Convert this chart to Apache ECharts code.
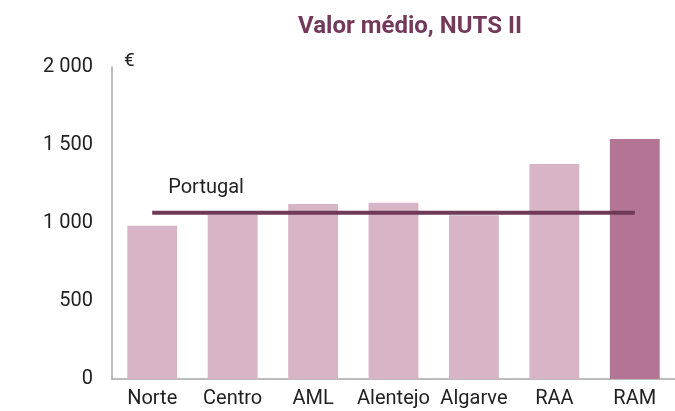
<!DOCTYPE html>
<html>
<head>
<meta charset="utf-8">
<script src="https://cdn.jsdelivr.net/npm/echarts@6/dist/echarts.min.js"></script>
<style>
  html, body { margin: 0; padding: 0; background: #fff; }
  #chart { width: 675px; height: 411px; }
</style>
</head>
<body>
<div id="chart"></div>
<script>
// dados
var regions = ['Norte', 'Centro', 'AML', 'Alentejo', 'Algarve', 'RAA', 'RAM'];
var values = [982, 1052, 1122, 1130, 1050, 1378, 1538];
var portugal = 1065;

var myChart = echarts.init(document.getElementById('chart'));

var barData = values.map(function (v, i) {
    return {
        value: v,
        itemStyle: { color: regions[i] === 'RAM' ? '#b37593' : '#d8b5c6' }
    };
});

var lineData = regions.map(function (r, i) {
    if (i === 0) {
        return {
            value: portugal,
            label: { show: true, formatter: 'Portugal', position: [16, -35] }
        };
    }
    return portugal;
});

var option = {
    textStyle: { fontFamily: 'Roboto' },
    title: {
        text: 'Valor médio, NUTS II',
        left: 405,
        textAlign: 'center',
        top: 10,
        textStyle: { color: '#74385a', fontSize: 24, fontWeight: 'bold', fontFamily: 'Roboto' }
    },
    grid: { left: 112, right: -2, top: 67, bottom: 32, containLabel: false },
    xAxis: {
        type: 'category',
        data: regions,
        axisLine: { lineStyle: { color: '#a6a6a6', width: 1.5 } },
        axisTick: { show: false },
        axisLabel: { color: '#222', fontSize: 20, margin: 10, interval: 0 }
    },
    yAxis: {
        type: 'value',
        min: 0,
        max: 2000,
        interval: 500,
        name: '€',
        nameLocation: 'end',
        nameGap: 6,
        nameTextStyle: { color: '#222', fontSize: 19, align: 'left', verticalAlign: 'middle', padding: [0, 0, 0, 12] },
        axisLine: { show: true, lineStyle: { color: '#a6a6a6', width: 1.5 } },
        axisTick: { show: false },
        splitLine: { show: false },
        axisLabel: {
            color: '#222',
            fontSize: 20,
            margin: 19,
            formatter: function (v) {
                return String(v).replace(/\B(?=(\d{3})+(?!\d))/g, ' ');
            }
        }
    },
    series: [
        {
            type: 'bar',
            data: barData,
            barCategoryGap: '38%',
            animation: false
        },
        {
            type: 'line',
            data: lineData,
            symbol: 'circle',
            symbolSize: 0,
            showSymbol: true,
            lineStyle: { color: '#6e3a58', width: 4 },
            itemStyle: { color: '#6e3a58' },
            label: { color: '#222', fontSize: 20 },
            animation: false,
            z: 5
        }
    ]
};

myChart.setOption(option);
</script>
</body>
</html>
